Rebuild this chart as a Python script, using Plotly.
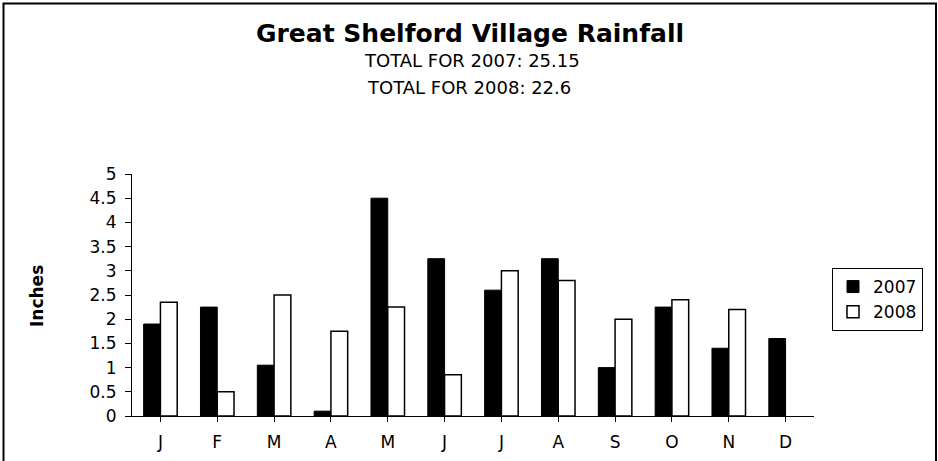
import plotly.graph_objects as go

months = ["J", "F", "M", "A", "M", "J", "J", "A", "S", "O", "N", "D"]
rain_2007 = [1.9, 2.25, 1.05, 0.1, 4.5, 3.25, 2.6, 3.25, 1.0, 2.25, 1.4, 1.6]
rain_2008 = [2.35, 0.5, 2.5, 1.75, 2.25, 0.85, 3.0, 2.8, 2.0, 2.4, 2.2, None]
y_ticks = [0, 0.5, 1, 1.5, 2, 2.5, 3, 3.5, 4, 4.5, 5]
y_tick_text = ["0", "0.5", "1", "1.5", "2", "2.5", "3", "3.5", "4", "4.5", "5"]

x_idx = list(range(len(months)))

W, H = 938, 461
L, R, T, B = 132, 814, 174, 416
pw, ph = R - L, B - T

FONT = "DejaVu Sans, Liberation Sans, Arial, sans-serif"

fig = go.Figure()
fig.add_trace(go.Bar(x=x_idx, y=rain_2007, name="2007",
                     marker=dict(color="black", line=dict(color="black", width=1))))
fig.add_trace(go.Bar(x=x_idx, y=rain_2008, name="2008",
                     marker=dict(color="white", line=dict(color="black", width=1.5))))

def px_x(p):
    return (p - L) / pw

def px_y(p):
    return (B - p) / ph

fig.update_layout(
    width=W, height=H,
    margin=dict(l=L, r=W - R, t=T, b=H - B, pad=0, autoexpand=False),
    paper_bgcolor="white", plot_bgcolor="white",
    font=dict(family=FONT, color="black", size=17),
    barmode="group", bargap=0.41, bargroupgap=0,
    showlegend=True,
    legend=dict(x=px_x(832), y=px_y(268), xanchor="left", yanchor="top",
                bordercolor="black", borderwidth=1, bgcolor="white",
                font=dict(size=17, family=FONT), itemwidth=30,
                tracegroupgap=0),
    xaxis=dict(range=[-0.5, 11.5], tickmode="array", tickvals=x_idx, ticktext=months,
               showline=True, linecolor="black", linewidth=1,
               ticks="outside", tickson="boundaries", ticklen=5, tickcolor="black",
               ticklabelstandoff=6, automargin=False,
               showgrid=False, zeroline=False, tickfont=dict(size=17, family=FONT),
               fixedrange=True),
    yaxis=dict(range=[0, 5], tickmode="array", tickvals=y_ticks, ticktext=y_tick_text,
               showline=True, linecolor="black", linewidth=1,
               ticks="outside", ticklen=6, tickcolor="black",
               ticklabelstandoff=5, automargin=False,
               showgrid=False, zeroline=False, tickfont=dict(size=17, family=FONT),
               fixedrange=True),
)

fig.add_annotation(text="<b>Great Shelford Village Rainfall</b>", xref="paper", yref="paper",
                   x=px_x(470), y=px_y(33), xanchor="center", yanchor="middle",
                   showarrow=False, font=dict(size=25, family=FONT))
fig.add_annotation(text="TOTAL FOR 2007: 25.15", xref="paper", yref="paper",
                   x=px_x(472), y=px_y(61), xanchor="center", yanchor="middle",
                   showarrow=False, font=dict(size=18, family=FONT))
fig.add_annotation(text="TOTAL FOR 2008: 22.6", xref="paper", yref="paper",
                   x=px_x(469), y=px_y(87), xanchor="center", yanchor="middle",
                   showarrow=False, font=dict(size=18, family=FONT))
fig.add_annotation(text="<b>Inches</b>", xref="paper", yref="paper",
                   x=px_x(37), y=px_y(296), xanchor="center", yanchor="middle",
                   textangle=-90, showarrow=False, font=dict(size=17, family=FONT))

fig.add_shape(type="rect", xref="paper", yref="paper",
              x0=px_x(3.5), x1=px_x(936), y0=px_y(470), y1=px_y(3.5),
              line=dict(color="black", width=2), fillcolor="rgba(0,0,0,0)", layer="below")

fig.write_html("out.html", config={"displayModeBar": False},
               post_script="document.body.style.margin='0px';")
